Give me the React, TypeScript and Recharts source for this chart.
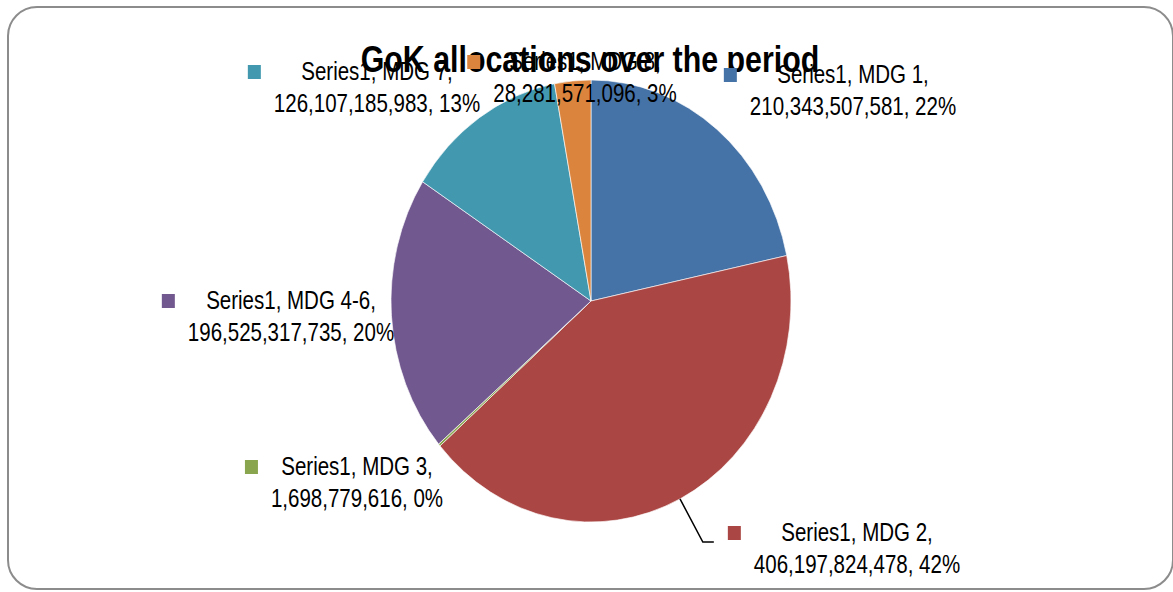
import React from 'react';
import { PieChart, Pie, Cell, Sector } from 'recharts';

const seriesName = 'Series1';
const categories = ['MDG 1', 'MDG 2', 'MDG 3', 'MDG 4-6', 'MDG 7', 'MDG 8'];
const allocations = [210343507581, 406197824478, 1698779616, 196525317735, 126107185983, 28281571096];
const sliceColors = ['#4572A7', '#AA4643', '#89A54E', '#71588F', '#4198AF', '#DB843D'];

// where Excel put each data label (text centre / first baseline, relative to pie centre)
const labelOffsets = [
  [262, -218],
  [266, 240],
  [-234, 174],
  [-300, 8],
  [-214, -221],
  [-6, -231],
];
const leaderLines = [false, true, false, false, false, false];

const data = categories.map((name, i) => ({ name, value: allocations[i] }));
const total = allocations.reduce((a, b) => a + b, 0);

const W = 1173;
const H = 592;
const PIE_CX = 591;
const PIE_CY = 301;
const PIE_R = 200;
const Y_STRETCH = 1.105;
const FONT = "'Liberation Sans', Arial, sans-serif";
const LABEL_SIZE = 25;
const TITLE_SIZE = 37;
const NARROW = 0.82; // no narrow font installed, so squeeze the glyphs instead
const LINE_GAP = 32;
const RAD = Math.PI / 180;

let ctx: CanvasRenderingContext2D | null = null;
const measure = (s: string, size: number, weight = 'normal') => {
  if (!ctx) ctx = document.createElement('canvas').getContext('2d');
  if (!ctx) return s.length * size * 0.5 * NARROW;
  ctx.font = `${weight} ${size}px ${FONT}`;
  return ctx.measureText(s).width * NARROW;
};

const NarrowText = ({ x, y, size, weight = 'normal', children }: any) => (
  <text
    x={x}
    y={y}
    textAnchor="middle"
    fontSize={size}
    fontWeight={weight}
    fontFamily={FONT}
    fill="#000"
    textLength={measure(children, size, weight)}
    lengthAdjust="spacingAndGlyphs"
  >
    {children}
  </text>
);

const StretchedSector = (props: any) => {
  const { cy } = props;
  return (
    <g transform={`translate(0 ${cy}) scale(1 ${Y_STRETCH}) translate(0 ${-cy})`}>
      <Sector {...props} />
    </g>
  );
};

const renderLabel = (props: any) => {
  const { index, cx, cy, midAngle, outerRadius } = props;
  const [dx, dy] = labelOffsets[index];
  const tx = cx + dx;
  const b1 = cy + dy;
  const line1 = `${seriesName}, ${categories[index]},`;
  const line2 = `${allocations[index].toLocaleString('en-US')}, ${Math.round((allocations[index] / total) * 100)}%`;
  const w2 = measure(line2, LABEL_SIZE);
  const sqX = tx - w2 / 2 - 26;
  let leader = null;
  if (leaderLines[index]) {
    const ex = cx + Math.cos(-midAngle * RAD) * outerRadius;
    const ey = cy + Math.sin(-midAngle * RAD) * outerRadius * Y_STRETCH;
    const endX = sqX - 14;
    const y = b1 + 1;
    leader = <polyline points={`${ex},${ey} ${endX - 11},${y} ${endX},${y}`} fill="none" stroke="#000" strokeWidth={1.5} />;
  }
  return (
    <g key={`lbl-${index}`}>
      {leader}
      <rect x={sqX} y={b1 - 15} width={13} height={14} fill={sliceColors[index]} />
      <NarrowText x={tx} y={b1} size={LABEL_SIZE}>{line1}</NarrowText>
      <NarrowText x={tx} y={b1 + LINE_GAP} size={LABEL_SIZE}>{line2}</NarrowText>
    </g>
  );
};

export default function App() {
  return (
    <div style={{ position: 'absolute', left: 0, top: 0, width: W, height: H, background: '#fff' }}>
      <div
        style={{
          position: 'absolute',
          left: 7,
          top: 6,
          width: 1163,
          height: 580,
          border: '2px solid #8c8c8c',
          borderRadius: 30,
        }}
      />
      <div style={{ position: 'absolute', left: 0, top: 0 }}>
        <PieChart width={W} height={H} margin={{ top: 0, right: 0, bottom: 0, left: 0 }}>
          <Pie
            data={data}
            dataKey="value"
            nameKey="name"
            cx={PIE_CX}
            cy={PIE_CY}
            outerRadius={PIE_R}
            startAngle={90}
            endAngle={-270}
            stroke="#ffffff"
            strokeWidth={0.6}
            shape={StretchedSector}
            inactiveShape={StretchedSector}
            activeShape={StretchedSector}
            label={renderLabel}
            labelLine={false}
            isAnimationActive={false}
          >
            {data.map((d, i) => (
              <Cell key={`cell-${i}`} fill={sliceColors[i]} />
            ))}
          </Pie>
          <NarrowText x={590} y={72} size={TITLE_SIZE} weight="bold">
            GoK allocations over the period
          </NarrowText>
        </PieChart>
      </div>
    </div>
  );
}
